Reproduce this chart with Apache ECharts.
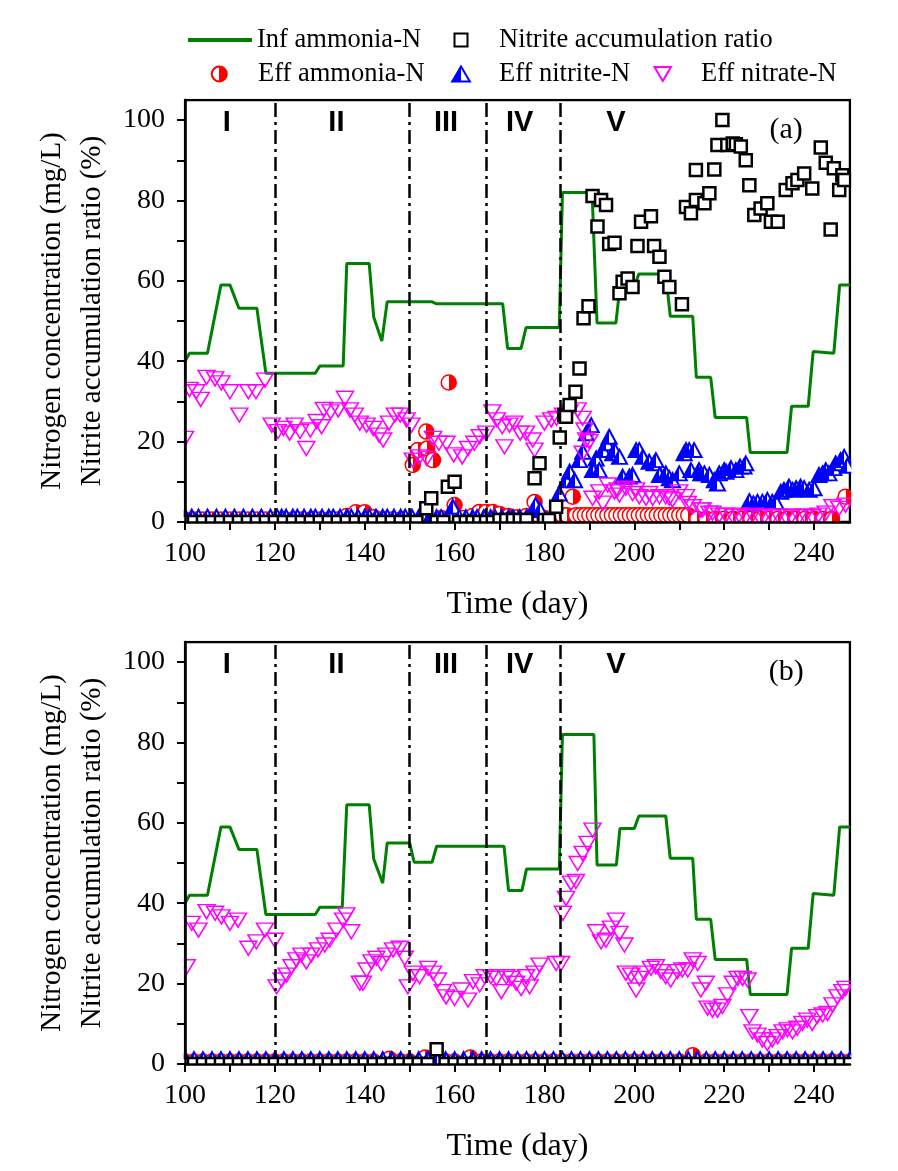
<!DOCTYPE html>
<html>
<head>
<meta charset="utf-8">
<script src="https://cdn.jsdelivr.net/npm/echarts@6/dist/echarts.min.js"></script>
<style>
  html, body { margin: 0; padding: 0; background: #ffffff; }
  #chart { width: 898px; height: 1171px; }
</style>
</head>
<body>
<div id="chart"></div>
<script>
// ---- data: [day, value] ----
// influent ammonia (step line), panel a and b
const infAmmoniaA = [[100,40],[101,42],[105,42],[108,59],[110,59],[112,53.2],[116,53.2],[118,37],[129,37],[130,38.8],[135.2,38.8],[136,64.3],[141,64.3],[142,51],[143.8,45],[145,54.8],[155,54.8],[156,54.3],[170.7,54.3],[171.8,43.2],[174.8,43.2],[175.9,48.4],[183.3,48.4],[184,82],[190.6,82],[191.7,49.5],[195.9,49.5],[196.8,58.6],[200,58.6],[201,61.7],[207,61.7],[208,51.2],[213,51.2],[213.8,36],[217,36],[218,26],[225,26],[225.8,17.3],[234,17.3],[235,28.8],[238.7,28.8],[239.8,42.4],[244.4,42],[245.7,59],[248,59]];
const infAmmoniaB = [[100,40],[101,42],[105,42],[108,59],[110,59],[112,53.4],[116,53.4],[118,37.2],[129,37.2],[130,39],[135,39],[136,64.5],[141,64.5],[142,51],[144,45],[145,55],[150,55],[151,50.2],[155,50.2],[156,54.2],[171,54.2],[172,43.2],[175,43.2],[176,48.5],[183.3,48.5],[184,82],[191,82],[191.7,49.5],[196,49.5],[196.8,58.6],[200,58.6],[201,61.7],[207,61.7],[208,51.2],[213,51.2],[213.8,36],[217,36],[218,26],[225,26],[225.8,17.3],[234,17.3],[235,28.8],[238.7,28.8],[239.8,42.4],[244.4,42],[245.7,59],[248,59]];

// effluent nitrate
const effNitrateA = [[100,20.8],[101,33],[102.5,32.4],[103.5,30.5],[104.8,36],[106.7,35.6],[108.1,34.6],[110,32.4],[112.1,26.6],[114.1,32.4],[115.8,32.4],[117.8,35.3],
  [119.3,24.1],[120.7,22.5],[121.9,23.3],[123.3,22.1],[124.4,24.1],[125.6,22.5],[127,18.3],[127.9,22.9],[129.3,25],[130.4,23.7],[130.9,28],[132.4,27.4],[134.1,27.9],[135.6,30.8],[136.7,27.9],[137.8,26.6],[138.9,24.6],[140.4,24.1],[141.9,23.3],[143.2,21.6],[144.1,20.4],[145.4,24.6],[146.7,26.6],[147.9,26.6],[149.3,25.4],[150.4,24.1],
  [150.7,15.4],[152.2,16.2],[153.8,15.8],[155.2,20.8],[156.5,19.6],[158.2,19.6],[159.8,16.7],[161.7,16.2],[163,18.3],[164.4,19.6],[165.6,21.2],
  [167,22.1],[168.4,27.4],[169.4,25.4],[170.6,23.7],[171.1,18.7],[172.2,24.1],[173.3,24.6],[174.6,22.1],[175.9,22.1],[177.4,20.4],[177.8,17.9],[180,24.6],[181.5,25.4],[182.7,25.8],[184.1,26.6],[185.6,27.4],[187.4,27.9],[188.5,25.8],[188.9,22.9],[189.3,20.4],[188.5,17.1],[190,20],
  [190.7,5.9],[192.2,7.5],[193,4.7],[194.1,9.2],[195.6,7.5],[196.3,8],[196.7,6.7],[198.1,8.4],[199.6,7.1],[200.4,8],[201.1,6.3],[202.6,5.9],[203.3,7.1],[204.1,5.9],[205.6,6.3],[207,6.3],[207.8,5.9],[208.5,5.5],[210,7.5],[211.5,6.3],[211.9,4.6],[213,3.8],[214.8,3],[215.2,3],[216.7,2.2],[217.4,2.2],[218.9,1.7],[220.4,1.7],[221.9,1.5],[223.3,1.7],[224.8,1.3],[226.3,1.7],[227.8,1.3],[229,1.5],[230.7,1.3],[232,1.5],[233.7,1.3],[235,1.5],[236.7,1.3],[238,1.5],[239.6,1.3],[241,1.7],[242.6,2.2],[244.1,3.8],[245.6,3.4],[247,4.2]];
const effNitrateB = [[100.4,24.2],[101.5,35],[103,33.3],[104.8,37.9],[106.7,37.5],[108.1,36.6],[110,35],[111.8,35.8],[114.1,28.8],[115.9,30.4],[117.8,33.3],[120,30.8],
  [120.4,19.2],[121.5,20.9],[122.6,22.1],[123.7,24.2],[124.8,25.9],[125.9,27.1],[127,25.4],[128.1,27.1],[129.6,28.4],[131.1,29.6],[132.2,30.8],[133.7,33.3],[135.2,35.8],[135.9,37.1],[137,32.9],
  [138.9,20.1],[139.6,20.1],[140.4,23.4],[141.5,25.4],[142.6,26.3],[143.7,25],[144.8,27.1],[146.3,28.4],[147.8,28.8],[148.9,26.3],[149.6,19.2],
  [150.7,22.6],[152.2,21.7],[154.1,23.8],[155.2,22.6],[156.3,20.9],[157.4,18],[158.1,16.7],[160,16.3],[161.5,18.4],[163,15.9],[164.1,20.5],[165.6,19.7],[166.7,21.7],
  [168.1,21.7],[169.3,21.3],[170.4,18],[171.5,21.7],[172.6,21.3],[173.7,20.1],[174.8,18.8],[175.9,21.7],[176.7,19.2],[177.8,22.6],[178.9,24.6],[182.6,25],[183.7,25],
  [184.1,37.5],[184.8,41.2],[185.9,45],[187,45.4],[187.4,49.9],[188.5,52.4],[189.6,54.9],[190.7,58.2],
  [191.5,32.9],[192.6,30.4],[193.7,30.8],[194.8,33.8],[195.9,35.8],[196.7,32.5],[197.8,29.6],[198.1,22.6],[199.3,22.1],[200.4,18.4],[201.1,21.3],[202.2,22.6],[203.7,23.8],[204.8,24.2],[205.9,23],[207,21.7],[208.1,20.9],[209.6,23],[210.7,23.4],[211.9,23.4],[213,25.9],[214.1,25],[214.8,18.4],[215.9,20.1],
  [216.3,13.9],[217.4,13.4],[218.5,13.4],[219.6,14.3],[220.7,17.2],[221.9,20.1],[223,21.3],[224.1,21.3],[225.2,20.9],[225.6,11.8],[226.3,8],[227.4,7.2],[228.5,6],[229.6,5.1],[230.7,6],[231.9,6.8],[233,8],[234.1,8.5],[235.2,8],[236.3,8.9],[237.4,10.1],[238.5,10.9],[239.6,10.1],[240.7,11.8],[241.9,12.2],[243,12.6],[244.1,14.7],[245.2,16.7],[246.3,18],[247,18.8]];

// effluent nitrite
const effNitriteA = [[100,1.3],[101.5,1.3],[103,1.3],[105,1.3],[107,1.3],[109,1.3],[111,1.3],[113,1.3],[115,1.3],[117,1.3],[119,1.3],[120.5,1.3],[121.5,1.3],[122.5,1.3],[124,1.3],[125,1.3],[126.5,1.3],[128,1.3],[129,1.3],[130.5,1.3],[132,1.3],[133,1.3],[134.5,1.3],[136,1.3],[137,1.3],[138.5,1.3],[140,1.3],[141,1.3],[142.5,1.3],[144,1.3],[145,1.3],[146.5,1.3],[148,1.3],[149,1.3],[150.5,1.3],[152,1.2],[153,1.2],[154.5,1.2],[156,1.2],[157,1.2],[159.6,3.8],[161,1.2],[162.5,1.2],[164,1.2],[165,1.2],[166.5,1.2],[168,1.2],[169,1.2],[170.5,1.2],[172,1.2],[173,1.2],[174.5,1.2],[176,1.2],
  [178,4.2],[179,3],[183.3,7.1],[184.8,10.4],[185.6,12.5],[186.7,10.4],[187.8,15.4],[188.5,17.5],[189.3,22.1],[190.4,24.1],[190.7,12.9],[191.5,15.8],[192.2,12.9],[193,17.9],[193.8,19.6],[194.4,21.2],[195.2,17.1],[195.6,17.9],[196.7,16.2],[197.4,11.3],[198.9,11.3],[199.6,11.7],[200.4,17.9],[201.1,17.9],[201.9,16.2],[203.3,15],[204.4,14.6],[204.8,15.4],[205.6,11.7],[207,12.1],[207.8,10.9],[208.5,10.4],[210,12.1],[211.1,17.1],[211.5,17.9],[212.2,17.9],[212.6,12.9],[213.3,17.9],[214.4,12.9],[214.8,12.1],[215.6,12.1],[216.7,11.7],[217.8,10.4],[218.5,9.6],[218.9,12.1],[220,12.9],[220.4,12.5],[221.5,13.4],[222.6,12.9],[223.5,13.8],[224.4,13.8],[224.8,14.6],
  [225.6,5.2],[226.5,4.6],[227.4,5],[228.5,5],[229.6,5.5],[230.7,5],[231.5,5],[232.6,7.5],[233.3,8],[234.4,8.8],[235.2,8],[236,8.4],[237,8.8],[237.8,8.4],[238.9,8],[240,8.4],[241.1,11.7],[241.9,12.1],[242.6,12.9],[243.3,12.1],[244.4,13.4],[244.8,14.6],[245.9,15.4],[246.7,16.2],[247.4,14]];
const effNitriteB = [[100,1.2],[102,1.2],[104,1.2],[106,1.2],[108,1.2],[110,1.2],[112,1.2],[114,1.2],[116,1.2],[118,1.2],[120,1.2],[122,1.2],[124,1.2],[126,1.2],[128,1.2],[130,1.2],[132,1.2],[134,1.2],[136,1.2],[138,1.2],[140,1.2],[142,1.2],[144,1.2],[146,1.2],[148,1.2],[150,1.2],[152,1.2],[154,1.2],[156,1.2],[158,1.2],[160,1.2],[162,1.2],[164,1.2],[166,1.2],[168,1.2],[170,1.2],[172,1.2],[174,1.2],[176,1.2],[178,1.2],[180,1.2],[182,1.2],[184,1.2],[186,1.2],[188,1.2],[190,1.2],[192,1.2],[194,1.2],[196,1.2],[198,1.2],[200,1.2],[202,1.2],[204,1.2],[206,1.2],[208,1.2],[210,1.2],[212,1.2],[214,1.2],[216,1.2],[218,1.2],[220,1.2],[222,1.2],[224,1.2],[226,1.2],[228,1.2],[230,1.2],[232,1.2],[234,1.2],[236,1.2],[238,1.2],[240,1.2],[242,1.2],[244,1.2],[246,1.2],[248,1.2]];

// effluent ammonia
const effAmmoniaA = [[100,0.6],[102,0.6],[104,0.6],[106,0.6],[108,0.6],[110,0.6],[112,0.6],[114,0.6],[116,0.6],[118,0.6],[120,0.6],[122,0.6],[124,0.6],[126,0.6],[128,0.6],[130,0.6],[132,0.6],[134,0.6],[136,1.5],[138,2.4],[140,2.4],[142,1.2],[144,0.6],[146,0.6],[148,0.6],
  [150.7,14.2],[151.8,17.9],[153.7,22.5],[153.9,18.3],[155.2,15.4],[157,1],[158.7,34.7],[160,4.2],[162,1],[164,1.5],[165.5,2.5],[167,2.5],[168.5,2.5],[170,2],[172,1.5],[174,1.2],[176,1.5],[177.8,5],[180,1],[182,1],
  [184,1.7],[185,1.7],[186.3,6.3],[187,1.7],[188,1.7],[189,1.7],[190,1.7],[191,1.7],[192,1.7],[193,1.7],[194,1.7],[195,1.7],[196,1.7],[197,1.7],[198,1.7],[199,1.7],[200,1.7],[201,1.7],[202,1.7],[203,1.7],[204,1.7],[205,1.7],[206,1.7],[207,1.7],[208,1.7],[209,1.7],[210,1.7],[211,1.7],[212,1.7],
  [214,0.8],[216,0.8],[218,0.8],[220,0.8],[222,0.8],[224,0.8],[226,0.8],[228,0.8],[230,0.8],[232,0.8],[234,0.8],[236,0.8],[238,0.8],[240,0.8],[242,0.8],[244,0.8],[247,6.3]];
const effAmmoniaB = [[100,0.6],[102,0.6],[104,0.6],[106,0.6],[108,0.6],[110,0.6],[112,0.6],[114,0.6],[116,0.6],[118,0.6],[120,0.6],[122,0.6],[124,0.6],[126,0.6],[128,0.6],[130,0.6],[132,0.6],[134,0.6],[136,0.6],[138,0.6],[140,0.6],[142,0.6],[145.5,1.3],[148,0.6],[150,0.6],[153.5,1.6],[156,0.6],[158,0.6],[160,0.6],[163.5,1.6],[166,0.6],[168,0.6],[170,0.6],[172,0.6],[174,0.6],[176,0.6],[178,0.6],[180,0.6],[182,0.6],[184,0.6],[186,0.6],[188,0.6],[190,0.6],[192,0.6],[194,0.6],[196,0.6],[198,0.6],[200,0.6],[202,0.6],[204,0.6],[206,0.6],[208,0.6],[210,0.6],[213,2.2],[216,0.6],[218,0.6],[220,0.6],[222,0.6],[224,0.6],[226,0.6],[228,0.6],[230,0.6],[232,0.6],[234,0.6],[236,0.6],[238,0.6],[240,0.6],[242,0.6],[244,0.6],[246,0.6],[248,0.6]];

// nitrite accumulation ratio (%)
const nitriteRatioA = [[100,0],[102,0],[104,0],[106,0],[108,0],[110,0],[112,0],[114,0],[116,0],[118,0],[120,0],[122,0],[124,0],[126,0],[128,0],[130,0],[132,0],[134,0],[136,0],[138,0],[140,0],[142,0],[144,0],[146,0],[148,0],[150,0],[151.5,0],
  [153.7,3.4],[154.8,5.9],[156,0],[157.5,0],[158.5,8.8],[160,10],[161,0],[162.5,0],[164,0],[165.5,0],[167,0],[168.5,0],[170,0.5],[171.5,0.5],[173,0.5],[174.5,0.5],[176,0.5],[177.8,10.9],[178.9,14.6],[180,0.5],[181,0.5],[182.6,3.8],
  [183.4,21],[184.4,26.6],[184.8,26.2],[185.6,29.1],[186.9,32.4],[187.8,38.2],[188.7,50.7],[189.8,53.7],[190.7,81.1],[191.8,73.5],[192.6,80.1],[193.7,78.9],[194.4,69.2],[195.6,69.5],[196.7,56.9],[197.4,59.8],[198.5,60.6],[199.6,58.5],[200.7,68.7],[201.5,74.7],[203.7,76.1],[204.4,68.7],[205.6,66],[206.7,61],[207.8,58.5],[210.6,54.2],
  [211.5,78.4],[212.6,76.8],[213.7,80.1],[213.7,87.6],[215.6,79.3],[216.7,81.8],[217.8,87.7],[218.5,93.8],[219.6,100],[220.7,93.8],[221.9,94.2],[222.6,94],[223.7,93.4],[224.8,90],[225.6,83.8],[226.7,76.4],[228.1,78],[229.6,79.3],[230.4,74.7],[231.9,74.7],[233.7,82.6],[235.2,84.3],[236.3,85.1],[237.8,86.7],[239.6,83],[241.5,93.2],[242.6,89.4],[243.7,72.8],[244.4,88],[245.6,82.6],[246.3,86.3],[246.7,85.1]];
const nitriteRatioB = [[100,0],[102,0],[104,0],[106,0],[108,0],[110,0],[112,0],[114,0],[116,0],[118,0],[120,0],[122,0],[124,0],[126,0],[128,0],[130,0],[132,0],[134,0],[136,0],[138,0],[140,0],[142,0],[144,0],[146,0],[148,0],[150,0],[152,0],[154,0],[156,3.7],[158,0],[160,0],[162,0],[164,0],[166,0],[168,0],[170,0],[172,0],[174,0],[176,0],[178,0],[180,0],[182,0],[184,0],[186,0],[188,0],[190,0],[192,0],[194,0],[196,0],[198,0],[200,0],[202,0],[204,0],[206,0],[208,0],[210,0],[212,0],[214,0],[216,0],[218,0],[220,0],[222,0],[224,0],[226,0],[228,0],[230,0],[232,0],[234,0],[236,0],[238,0],[240,0],[242,0],[244,0],[246,0],[248,0]];

// phases and ticks
const phaseBounds = [120, 150, 167, 183.5];
const phaseNames = ['I', 'II', 'III', 'IV', 'V'];
const phaseCenters = [109.3, 133.7, 158.1, 174.5, 195.9];
const phaseLabelY = 99.3;
const panelTags = ['(a)', '(b)'];
const panelTagPos = [233.8, 97.5];
const xLabelValues = [100, 120, 140, 160, 180, 200, 220, 240];
const xTickValues = [100, 110, 120, 130, 140, 150, 160, 170, 180, 190, 200, 210, 220, 230, 240];
const yLabelValues = [0, 20, 40, 60, 80, 100];
const yTickValues = [0, 10, 20, 30, 40, 50, 60, 70, 80, 90, 100];

const SERIF = 'Liberation Serif';
// plot boxes (px)
const GRID_LEFT = 185, GRID_W = 665, GRID_H = 422;
const gridTops = [100, 642];

// symbols
const triUp = 'path://M10,0L20,17L0,17Z';
const triDown = 'path://M0,0L20,0L10,17Z';
const square = 'path://M0,0L10,0L10,10L0,10Z';
const redHalf = { type: 'linear', x: 0, y: 0, x2: 1, y2: 0, colorStops: [
  { offset: 0, color: '#ffffff' }, { offset: 0.5, color: '#ffffff' },
  { offset: 0.5, color: '#ff0000' }, { offset: 1, color: '#ff0000' }] };
const blueHalf = { type: 'linear', x: 0, y: 0, x2: 1, y2: 0, colorStops: [
  { offset: 0, color: '#0000ff' }, { offset: 0.5, color: '#0000ff' },
  { offset: 0.5, color: '#ffffff' }, { offset: 1, color: '#ffffff' }] };

const panels = [
  { inf: infAmmoniaA, ammonia: effAmmoniaA, nitrite: effNitriteA, nitrate: effNitrateA, ratio: nitriteRatioA },
  { inf: infAmmoniaB, ammonia: effAmmoniaB, nitrite: effNitriteB, nitrate: effNitrateB, ratio: nitriteRatioB }
];

function xAxisFor(i) {
  return {
    type: 'value', gridIndex: i, min: 100, max: 248, z: 10,
    name: 'Time (day)', nameLocation: 'middle', nameGap: 67,
    nameTextStyle: { fontFamily: SERIF, fontSize: 32, color: '#000' },
    axisLine: { show: true, onZero: false, lineStyle: { color: '#000', width: 2.5 } },
    axisTick: { show: true, inside: false, length: 8, customValues: xTickValues, lineStyle: { color: '#000', width: 2 } },
    axisLabel: { fontFamily: SERIF, fontSize: 28, color: '#000', margin: 18, customValues: xLabelValues },
    splitLine: { show: false }
  };
}

function yAxisFor(i) {
  return {
    type: 'value', gridIndex: i, min: 0, max: 105, z: 10,
    name: 'Nitrogen concentration (mg/L)\nNitrite accumulation ratio (%)',
    nameLocation: 'middle', nameRotate: 90, nameGap: 67,
    nameTextStyle: { fontFamily: SERIF, fontSize: 29, lineHeight: 40, color: '#000' },
    axisLine: { show: true, onZero: false, lineStyle: { color: '#000', width: 2.5 } },
    axisTick: { show: true, inside: false, length: 8, customValues: yTickValues, lineStyle: { color: '#000', width: 2 } },
    axisLabel: { fontFamily: SERIF, fontSize: 28, color: '#000', margin: 20, customValues: yLabelValues },
    splitLine: { show: false }
  };
}

function seriesFor(i) {
  const d = panels[i];
  const common = { xAxisIndex: i, yAxisIndex: i };
  const phaseData = phaseNames.map((n, k) => ({ name: n, value: [phaseCenters[k], phaseLabelY] }));
  phaseData.push({
    name: panelTags[i], value: panelTagPos,
    label: { fontFamily: SERIF, fontWeight: 'normal', fontSize: 30 }
  });
  return [
    Object.assign({
      name: 'Inf ammonia-N', type: 'line', data: d.inf, symbol: 'none', z: 2,
      lineStyle: { color: '#008000', width: 3 }, itemStyle: { color: '#008000' }
    }, common),
    Object.assign({
      name: 'Eff ammonia-N', type: 'scatter', data: d.ammonia, symbol: 'circle', symbolSize: 15, z: 3,
      itemStyle: { color: redHalf, borderColor: '#ff0000', borderWidth: 1.5, opacity: 1 }
    }, common),
    Object.assign({
      name: 'Eff nitrite-N', type: 'scatter', data: d.nitrite, symbol: triUp, symbolSize: [15, 14], z: 3,
      itemStyle: { color: blueHalf, borderColor: '#0000ff', borderWidth: 2, opacity: 1 }
    }, common),
    Object.assign({
      name: 'Eff nitrate-N', type: 'scatter', data: d.nitrate, symbol: triDown, symbolSize: [17, 14], z: 4,
      itemStyle: { color: 'rgba(255,255,255,0)', borderColor: '#ff00ff', borderWidth: 1.5, opacity: 1 }
    }, common),
    Object.assign({
      name: 'Nitrite accumulation ratio', type: 'scatter', data: d.ratio, symbol: square, symbolSize: 12, z: 5,
      itemStyle: { color: '#ffffff', borderColor: '#000000', borderWidth: 2.5, opacity: 1 }
    }, common),
    Object.assign({
      name: 'phases', type: 'scatter', data: phaseData, symbolSize: 1, silent: true, z: 6, clip: false,
      itemStyle: { color: 'rgba(0,0,0,0)' },
      label: { show: true, position: 'inside', formatter: '{b}', fontFamily: 'Liberation Sans', fontWeight: 'bold', fontSize: 29, color: '#000', opacity: 1 },
      markLine: {
        silent: true, symbol: 'none', animation: false,
        label: { show: false },
        lineStyle: { color: '#000', width: 2.5, type: [14, 5, 3, 5], opacity: 1 },
        data: phaseBounds.map(x => ({ xAxis: x }))
      }
    }, common)
  ];
}

// white masks that trim symbols hanging outside each plot box
function masksFor(top) {
  const bottom = top + GRID_H, right = GRID_LEFT + GRID_W;
  const fill = { fill: '#ffffff' };
  return [
    { type: 'rect', z: 8, silent: true, shape: { x: GRID_LEFT - 20, y: bottom + 1.3, width: GRID_W + 40, height: 12 }, style: fill },
    { type: 'rect', z: 8, silent: true, shape: { x: GRID_LEFT - 20, y: top - 12, width: 18.7, height: GRID_H + 24 }, style: fill },
    { type: 'rect', z: 8, silent: true, shape: { x: right + 1.3, y: top - 12, width: 20, height: GRID_H + 24 }, style: fill },
    { type: 'rect', z: 8, silent: true, shape: { x: GRID_LEFT - 20, y: top - 12, width: GRID_W + 40, height: 10.7 }, style: fill }
  ];
}

const legendText = { fontFamily: SERIF, fontSize: 26.5, color: '#000' };
const option = {
  animation: false,
  backgroundColor: '#ffffff',
  legend: [
    { left: 188, top: 26.5, padding: 0, itemWidth: 64, itemHeight: 4, textStyle: legendText,
      data: [{ name: 'Inf ammonia-N', icon: 'path://M0,0L64,0L64,4L0,4Z' }] },
    { left: 453.5, top: 26.5, padding: 0, itemWidth: 66, itemHeight: 13, textStyle: legendText,
      data: ['Nitrite accumulation ratio'] },
    { left: 210.8, top: 60.5, padding: 0, itemWidth: 67.4, itemHeight: 15, textStyle: legendText,
      data: ['Eff ammonia-N'] },
    { left: 451.2, top: 60.5, padding: 0, itemWidth: 66, itemHeight: 15, textStyle: legendText,
      data: ['Eff nitrite-N'] },
    { left: 653.5, top: 60.5, padding: 0, itemWidth: 66.6, itemHeight: 14, textStyle: legendText,
      data: ['Eff nitrate-N'] }
  ],
  graphic: { elements: masksFor(gridTops[0]).concat(masksFor(gridTops[1])) },
  grid: gridTops.map(t => ({
    left: GRID_LEFT, top: t, width: GRID_W, height: GRID_H,
    show: true, borderColor: '#000', borderWidth: 2.5, backgroundColor: 'transparent'
  })),
  xAxis: [xAxisFor(0), xAxisFor(1)],
  yAxis: [yAxisFor(0), yAxisFor(1)],
  series: seriesFor(0).concat(seriesFor(1))
};

const chart = echarts.init(document.getElementById('chart'));
chart.setOption(option);
</script>
</body>
</html>
